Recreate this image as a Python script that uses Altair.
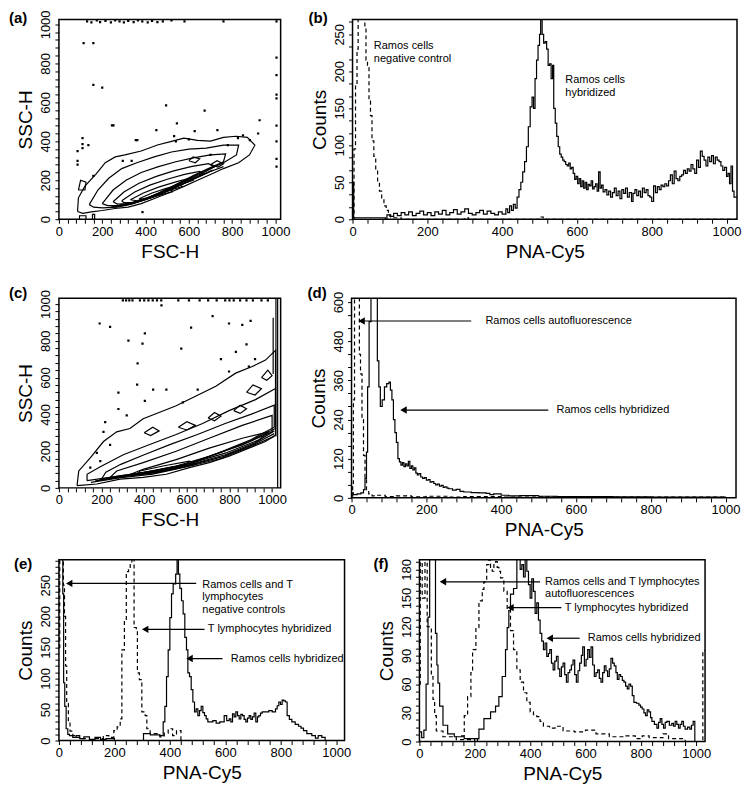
import altair as alt
import pandas as pd

FONT = "Liberation Sans"

# ---------------- (a) FSC/SSC contour, Ramos cells ----------------
A_CONTOURS = [
    [(86, 40), (90, 110), (120, 170), (170, 230), (214, 290), (260, 320), (305, 330), (380, 350), (455, 381),
     (520, 400), (577, 416), (640, 405), (700, 401), (760, 420), (818, 426), (870, 420), (905, 380), (880, 330),
     (830, 290), (760, 260), (700, 230), (640, 200), (580, 170), (518, 140), (450, 110), (380, 80), (320, 62),
     (259, 55), (200, 45), (150, 38), (110, 30), (86, 40)],
    [(140, 75), (180, 150), (230, 210), (290, 260), (360, 290), (440, 320), (520, 345), (600, 360), (680, 365),
     (760, 380), (830, 380), (820, 330), (760, 290), (690, 255), (620, 220), (550, 180), (480, 140), (410, 105),
     (340, 78), (270, 62), (200, 58), (160, 62), (140, 75)],
    [(200, 80), (250, 150), (310, 200), (380, 240), (460, 270), (540, 295), (620, 315), (700, 330), (770, 335),
     (760, 295), (700, 265), (630, 230), (560, 190), (490, 150), (420, 112), (350, 85), (280, 70), (225, 70),
     (200, 80)],
    [(250, 90), (300, 140), (370, 185), (450, 220), (530, 248), (610, 270), (690, 285), (720, 270), (670, 240),
     (600, 205), (530, 170), (460, 130), (390, 100), (320, 80), (270, 78), (250, 90)],
    [(290, 95), (350, 140), (420, 175), (500, 205), (580, 230), (650, 245), (670, 232), (610, 205), (540, 175),
     (470, 138), (400, 105), (335, 86), (300, 85), (290, 95)],
    [(330, 100), (390, 135), (460, 165), (540, 192), (610, 212), (620, 200), (560, 178), (490, 148), (420, 115),
     (360, 95), (330, 100)],
    [(370, 105), (430, 135), (500, 160), (560, 178), (570, 168), (510, 148), (450, 122), (395, 102), (370, 105)],
    [(410, 110), (470, 135), (520, 150), (525, 142), (470, 125), (420, 108), (410, 110)],
    [(240, 62), (320, 75), (400, 100), (480, 135), (560, 175), (640, 215), (700, 245), (760, 270)],
    [(260, 66), (340, 82), (420, 108), (500, 145), (580, 185), (650, 222), (710, 252)],
    [(280, 72), (360, 88), (440, 117), (520, 155), (600, 195), (660, 228)],
    [(600, 300), (620, 320), (650, 310), (630, 290), (600, 300)],
    [(700, 280), (730, 300), (760, 285), (735, 268), (700, 280)],
    [(90, 150), (100, 200), (125, 190), (120, 150), (90, 150)],
    [(95, 0), (95, 18), (125, 18), (125, 0)],
    [(155, 0), (155, 25), (165, 25), (165, 0)],
]
A_DOTS = [
    (130, 1015), (150, 1010), (175, 1020), (190, 1012), (215, 1018), (240, 1010), (260, 1020), (280, 1015),
    (300, 1010), (320, 1018), (345, 1012), (365, 1020), (385, 1015), (410, 1010), (430, 1018), (455, 1012),
    (480, 1015), (520, 1020), (580, 1015), (760, 1015), (1005, 1015),
    (1005, 830), (1005, 740), (1005, 640), (1005, 620), (1005, 480), (1005, 400), (1005, 310), (1005, 270),
    (114, 904), (159, 904), (159, 690), (200, 675), (495, 584), (673, 558), (545, 492), (450, 457), (245, 482),
    (252, 482), (355, 406), (362, 406), (532, 426), (627, 452), (732, 457), (827, 416), (927, 508), (882, 406),
    (109, 416), (109, 385), (109, 365), (86, 350), (86, 300), (86, 280), (136, 380), (159, 223), (295, 299),
    (336, 299), (386, 36), (655, 228), (540, 400), (600, 410), (700, 330), (780, 380), (850, 430), (920, 440),
]

# ---------------- (b) histogram ----------------
B_HYB = [(0, 50), (3, 2), (88, 0), (92, 6), (100, 4), (110, 8), (120, 5), (130, 9), (140, 6), (150, 10), (160, 5),
         (170, 8), (180, 11), (190, 6), (200, 9), (210, 5), (220, 10), (230, 7), (240, 12), (250, 6), (260, 9),
         (270, 13), (280, 7), (290, 10), (300, 14), (310, 8), (320, 6), (330, 9), (340, 12), (350, 7), (360, 11),
         (370, 8), (380, 6), (390, 10), (400, 7), (410, 14), (415, 9), (420, 18), (425, 12), (430, 20), (435, 15),
         (440, 30), (445, 40), (450, 50), (455, 64), (460, 78), (465, 98), (470, 125), (475, 152), (480, 165),
         (484, 150), (488, 190), (492, 215), (496, 235), (500, 250), (503, 275), (507, 250), (511, 238), (515, 240),
         (519, 230), (523, 208), (527, 210), (531, 190), (535, 208), (538, 150), (542, 130), (546, 112), (550, 98),
         (554, 88), (558, 84), (562, 80), (566, 78), (570, 74), (574, 72), (578, 76), (582, 68), (586, 70),
         (590, 62), (594, 54), (598, 58), (602, 48), (606, 55), (610, 44), (614, 52), (618, 42), (622, 50),
         (626, 40), (630, 47), (634, 45), (638, 52), (642, 41), (646, 44), (650, 48), (654, 38), (658, 64),
         (662, 42), (666, 46), (670, 37), (675, 40), (680, 33), (685, 38), (690, 30), (695, 36), (700, 42),
         (705, 32), (710, 38), (715, 28), (720, 40), (725, 35), (730, 42), (735, 30), (740, 36), (746, 24),
         (750, 35), (755, 40), (760, 32), (765, 38), (770, 30), (775, 42), (780, 36), (785, 40), (790, 32),
         (795, 30), (800, 24), (805, 45), (810, 36), (815, 44), (820, 40), (825, 46), (830, 44), (835, 48),
         (840, 45), (845, 52), (850, 60), (855, 48), (860, 65), (865, 55), (870, 52), (875, 58), (880, 60),
         (885, 66), (890, 62), (895, 68), (900, 65), (905, 74), (910, 68), (915, 62), (920, 80), (925, 70),
         (930, 92), (935, 85), (940, 80), (945, 72), (950, 84), (955, 78), (960, 86), (965, 75), (970, 84),
         (975, 80), (980, 78), (985, 72), (990, 66), (995, 70), (1000, 58), (1004, 62), (1008, 48), (1012, 72),
         (1016, 38), (1020, 30), (1028, 30)]
B_NEG = [(0, 0), (4, 95), (8, 180), (12, 230), (15, 290), (33, 260), (36, 215), (40, 205), (44, 160), (48, 140),
         (52, 106), (57, 85), (62, 66), (67, 50), (72, 38), (78, 28), (84, 18), (90, 12), (96, 6), (102, 3),
         (110, 2), (130, 0), (300, 2), (310, 0), (500, 3), (510, 0), (1028, 0)]

# ---------------- (c) FSC/SSC contour, mixed ----------------
C_CONTOURS = [
    [(85, 12), (178, 21), (287, 48), (395, 57), (504, 74), (612, 110), (705, 137), (798, 172), (891, 216),
     (969, 252), (1016, 287), (1016, 748), (969, 695), (907, 660), (829, 624), (736, 553), (643, 500),
     (550, 447), (473, 411), (395, 376), (333, 323), (271, 305), (209, 252), (147, 163), (93, 92), (85, 12)],
    [(132, 39), (287, 66), (442, 92), (597, 128), (752, 190), (891, 252), (1016, 323), (1016, 540), (922, 480),
     (798, 420), (674, 350), (550, 290), (426, 236), (302, 180), (194, 115), (132, 74), (132, 39)],
    [(200, 48), (330, 70), (470, 98), (620, 135), (770, 200), (900, 262), (1010, 330), (1010, 450), (900, 400),
     (780, 350), (650, 290), (520, 235), (400, 180), (290, 128), (220, 85), (200, 48)],
    [(240, 57), (395, 83), (550, 119), (705, 172), (860, 234), (1000, 305), (1000, 394), (860, 340), (705, 270),
     (550, 199), (395, 137), (271, 92), (240, 57)],
    [(318, 66), (473, 92), (628, 137), (783, 190), (938, 261), (984, 305), (860, 270), (705, 216), (550, 154),
     (395, 101), (318, 66)],
    [(364, 71), (519, 96), (643, 128), (612, 145), (488, 119), (380, 92), (364, 71)],
    [(150, 30), (290, 55), (440, 75), (600, 115), (760, 160), (900, 225), (1010, 280)],
    [(170, 38), (300, 60), (450, 82), (610, 122), (770, 170), (910, 235), (1010, 295)],
    [(190, 44), (310, 66), (460, 88), (620, 128), (780, 180), (920, 245), (1010, 310)],
    [(820, 420), (850, 450), (880, 430), (850, 405), (820, 420)],
    [(700, 380), (730, 410), (760, 390), (730, 365), (700, 380)],
    [(560, 330), (600, 360), (640, 340), (600, 315), (560, 330)],
    [(880, 520), (910, 560), (950, 540), (920, 505), (880, 520)],
    [(950, 600), (980, 640), (1000, 610), (975, 585), (950, 600)],
    [(400, 300), (440, 330), (470, 310), (430, 285), (400, 300)],
    [(1018, 280), (1018, 1030)],
    [(1026, 0), (1026, 1030)],
    [(1005, 620), (1005, 925)],
]
C_DOTS = [
    (191, 894), (240, 876), (326, 801), (392, 784), (403, 840), (481, 993), (574, 757), (620, 872), (721, 934),
    (798, 894), (860, 887), (899, 908), (369, 677), (279, 518), (367, 562), (403, 473), (442, 535), (504, 535),
    (581, 465), (651, 535), (798, 633), (891, 660), (217, 358), (209, 305), (240, 234), (178, 190), (194, 145),
    (279, 429), (318, 394), (147, 110), (880, 780), (830, 740), (760, 700), (920, 700),
    (300, 1020), (315, 1020), (330, 1020), (345, 1020), (380, 1020), (400, 1020), (420, 1020), (440, 1020),
    (460, 1020), (480, 1020), (560, 1020), (610, 1020), (660, 1020), (700, 1020), (740, 1020), (780, 1020),
    (800, 1020), (820, 1020), (850, 1020), (880, 1020), (910, 1020), (950, 1020), (980, 1020),
]

# ---------------- (d) histogram ----------------
D_HYB = [(0, 15), (5, 10), (15, 12), (25, 15), (32, 25), (36, 60), (40, 140), (43, 340), (47, 540), (52, 640),
         (66, 640), (69, 420), (73, 340), (77, 280), (82, 300), (88, 340), (94, 350), (100, 355), (104, 330),
         (108, 300), (112, 240), (116, 200), (120, 170), (124, 120), (128, 110), (132, 100), (136, 108), (140, 96),
         (144, 104), (148, 98), (152, 112), (156, 90), (160, 98), (164, 86), (168, 92), (172, 76), (176, 70),
         (180, 74), (185, 64), (190, 60), (195, 62), (200, 54), (205, 56), (210, 48), (215, 50), (220, 44),
         (225, 40), (230, 42), (235, 36), (240, 38), (245, 32), (250, 34), (255, 30), (260, 28), (270, 24),
         (280, 26), (290, 20), (300, 18), (320, 16), (340, 15), (360, 14), (370, 10), (380, 12), (400, 8),
         (420, 6), (450, 7), (500, 5), (550, 4), (600, 4), (700, 3), (800, 2), (900, 2), (1000, 1), (1028, 1)]
D_AUTO = [(0, 5), (3, 40), (5, 300), (8, 640), (21, 440), (24, 380), (28, 240), (32, 130), (36, 60), (40, 25),
          (46, 12), (55, 6), (70, 8), (90, 4), (120, 6), (160, 3), (200, 5), (260, 2), (300, 4), (400, 2),
          (500, 3), (700, 2), (1000, 1), (1028, 1)]

# ---------------- (e) histogram ----------------
E_NEG_SOLID = [(0, 300), (14, 236), (17, 93), (21, 55), (26, 19), (32, 10), (38, 8), (50, 5), (62, 8), (75, 3),
               (90, 6), (110, 2), (130, 5), (150, 2), (170, 3), (200, 0)]
E_NEG_DASH = [(0, 150), (3, 300), (16, 250), (20, 200), (24, 120), (28, 60), (34, 30), (40, 15), (50, 8), (60, 5),
              (80, 3), (100, 0), (130, 0)]
E_T_HYB = [(130, 3), (160, 8), (180, 5), (198, 16), (210, 22), (221, 35), (227, 146), (236, 193), (243, 272),
           (251, 277), (257, 285), (263, 300), (271, 182), (279, 177), (283, 109), (290, 98), (299, 46), (311, 40),
           (317, 19), (329, 11), (364, 6), (380, 12), (394, 19), (410, 8), (424, 16), (440, 0), (460, 0)]
E_R_HYB = [(300, 0), (305, 11), (330, 9), (364, 8), (376, 30), (382, 55), (388, 103), (394, 146), (400, 198),
           (406, 236), (412, 252), (421, 268), (426, 300), (431, 268), (436, 245), (442, 225), (448, 204),
           (454, 166), (460, 146), (465, 109), (471, 103), (477, 82), (483, 62), (489, 46), (495, 51), (501, 40),
           (507, 48), (513, 55), (519, 45), (525, 40), (531, 35), (537, 30), (543, 30), (555, 32), (567, 28),
           (580, 30), (596, 40), (605, 32), (614, 35), (620, 30), (626, 43), (632, 38), (638, 46), (644, 40),
           (650, 35), (656, 42), (662, 40), (668, 34), (674, 30), (680, 36), (686, 40), (692, 34), (698, 38),
           (704, 44), (710, 30), (716, 38), (721, 40), (727, 44), (733, 46), (745, 46), (757, 48), (769, 46),
           (781, 51), (787, 56), (793, 62), (799, 58), (805, 65), (811, 64), (817, 62), (823, 40), (831, 34),
           (840, 30), (852, 26), (864, 23), (873, 20), (882, 16), (894, 11), (912, 8), (925, 4), (935, 8),
           (948, 5), (960, 0)]

# ---------------- (f) histogram ----------------
F_AUTO_SOLID = [(0, 10), (8, 4), (16, 12), (24, 60), (31, 130), (37, 195), (58, 113), (63, 80), (67, 61), (73, 37),
                (85, 17), (102, 8), (126, 5), (162, 3), (210, 0)]
F_AUTO_DASH = [(0, 60), (3, 195), (10, 150), (20, 195), (28, 120), (43, 68), (49, 44), (55, 27), (61, 11), (85, 5),
               (133, 2), (200, 0)]
F_T_HYB = [(150, 6), (162, 27), (174, 47), (186, 72), (192, 96), (204, 119), (215, 147), (227, 159), (233, 167),
           (243, 185), (251, 190), (257, 182), (263, 178), (269, 185), (275, 188), (281, 182), (287, 178),
           (293, 171), (305, 157), (317, 137), (329, 116), (340, 96), (352, 75), (364, 62), (376, 51), (388, 41),
           (400, 31), (412, 28), (424, 26), (436, 21), (448, 16), (470, 14), (490, 16), (519, 11), (560, 10),
           (600, 12), (638, 8), (686, 5), (740, 6), (780, 3), (805, 6), (830, 4), (864, 4), (880, 8), (900, 3),
           (924, 3), (960, 0), (1024, 95), (1032, 95)]
F_R_HYB = [(204, 3), (215, 13), (233, 24), (257, 31), (275, 37), (287, 47), (299, 68), (311, 96), (317, 119),
           (323, 137), (329, 154), (340, 160), (352, 192), (364, 180), (370, 185), (376, 172), (382, 192),
           (388, 178), (394, 164), (400, 150), (406, 170), (412, 157), (418, 134), (424, 145), (430, 127),
           (436, 113), (442, 105), (448, 96), (454, 103), (460, 89), (466, 92), (471, 96), (477, 82), (483, 75),
           (489, 84), (495, 89), (501, 76), (507, 68), (513, 78), (519, 82), (525, 70), (531, 62), (537, 72),
           (543, 75), (549, 80), (555, 85), (561, 70), (567, 62), (573, 74), (579, 82), (585, 90), (590, 99),
           (596, 79), (602, 86), (608, 96), (614, 88), (620, 99), (626, 80), (632, 68), (638, 72), (644, 75),
           (650, 66), (656, 62), (662, 72), (668, 79), (674, 74), (680, 68), (686, 76), (692, 87), (698, 82),
           (704, 79), (710, 72), (715, 65), (721, 70), (727, 68), (733, 64), (739, 62), (745, 58), (751, 55),
           (757, 60), (763, 58), (769, 48), (775, 41), (784, 40), (793, 38), (799, 36), (805, 34), (811, 30),
           (817, 27), (823, 33), (829, 31), (835, 25), (840, 21), (849, 18), (858, 14), (864, 20), (870, 24),
           (876, 18), (882, 14), (888, 20), (894, 21), (903, 17), (912, 19), (918, 16), (924, 21), (930, 18),
           (936, 14), (942, 18), (948, 21), (954, 16), (960, 13), (969, 15), (977, 13), (983, 17), (989, 21),
           (995, 0)]

# ---------------- annotations (data coordinates) ----------------
B_TEXT = [(57, 234, "Ramos cells\nnegative control"), (569, 188, "Ramos cells\nhybridized")]
D_ARROWS = [(27, 320, 542), (139, 526, 269)]
D_TEXT = [(358, 542, "Ramos cells autofluorescence"), (548, 269, "Ramos cells hybridized")]
E_ARROWS = [(37, 495, 253), (311, 525, 179), (471, 590, 132)]
E_TEXT = [(517, 251, "Ramos cells and T\nlymphocytes\nnegative controls"), (537, 179, "T lymphocytes hybridized"),
          (620, 132, "Ramos cells hybridized")]
F_ARROWS = [(85, 436, 167), (329, 513, 140), (471, 579, 108)]
F_TEXT = [(454, 167, "Ramos cells and T lymphocytes\nautofluorescences"), (525, 140, "T lymphocytes hybridized"),
          (608, 108, "Ramos cells hybridized")]

DASH = [4, 3]


def tick_values(step, end):
    vals, k = [], 0
    while k * step <= end + 1e-9:
        vals.append(round(k * step, 3))
        k += 1
    return vals


def make_axis(title, step, major, end, vertical):
    kw = dict(title=title, values=tick_values(step, end), format="d",
              labelExpr=f"datum.value % {major} == 0 ? datum.label : ''")
    if vertical:
        kw["labelAngle"] = 270
    return alt.Axis(**kw)


def enc(xdom, ydom, xtitle, ytitle, ystep, ymajor):
    X = alt.X("x:Q", scale=alt.Scale(domain=xdom, nice=False, zero=False),
              axis=make_axis(xtitle, 40, 200, 1000, False))
    Y = alt.Y("y:Q", scale=alt.Scale(domain=ydom, nice=False, zero=False),
              axis=make_axis(ytitle, ystep, ymajor, ydom[1], True))
    return X, Y


def hist(data, X, Y, dash=None):
    kw = dict(interpolate="step-after", color="black", strokeWidth=1.2, clip=True)
    if dash:
        kw["strokeDash"] = dash
    return alt.Chart(pd.DataFrame(data, columns=["x", "y"])).mark_line(**kw).encode(x=X, y=Y)


def contours(cs, X, Y):
    rows = []
    for cid, pts in enumerate(cs):
        for i, (x, y) in enumerate(pts):
            rows.append({"x": x, "y": y, "id": cid, "i": i})
    return alt.Chart(pd.DataFrame(rows)).mark_line(color="black", strokeWidth=1.2, clip=True).encode(
        x=X, y=Y, detail="id:N", order="i:Q")


def dots(pts, X, Y):
    return alt.Chart(pd.DataFrame(pts, columns=["x", "y"])).mark_square(
        size=5, color="black", opacity=1, clip=True).encode(x=X, y=Y)


def texts(items, X, Y):
    return alt.Chart(pd.DataFrame(items, columns=["x", "y", "t"])).mark_text(
        align="left", baseline="middle", font=FONT, fontSize=11, lineHeight=12.5, lineBreak="\n",
        color="black").encode(x=X, y=Y, text="t:N")


def arrows(items, X, Y):
    df = pd.DataFrame(items, columns=["x", "x2", "y"])
    line = alt.Chart(df).mark_rule(color="black", strokeWidth=1.2).encode(x=X, x2=alt.X2("x2:Q"), y=Y)
    head = alt.Chart(df).mark_point(shape="triangle-left", filled=True, size=55, color="black",
                                    opacity=1).encode(x=X, y=Y)
    return [line, head]


def panel_label(t, dx, dy):
    return alt.Chart(pd.DataFrame({"t": [t]})).mark_text(
        align="left", baseline="top", font=FONT, fontSize=15, fontWeight="bold", color="black").encode(
        text="t:N", x=alt.value(dx), y=alt.value(dy))


# (a)
X, Y = enc([0, 1024], [0, 1025], "FSC-H", "SSC-H", 40, 200)
pa = alt.layer(contours(A_CONTOURS, X, Y), dots(A_DOTS, X, Y), panel_label("(a)", -50, -9)).properties(
    width=222, height=200)

# (b)
X, Y = enc([0, 1028], [0, 270], "PNA-Cy5", "Counts", 50 / 3, 50)
pb = alt.layer(hist(B_HYB, X, Y), hist(B_NEG, X, Y, DASH), texts(B_TEXT, X, Y),
               panel_label("(b)", -44, -9)).properties(width=385, height=200)

# (c)
X, Y = enc([0, 1040], [0, 1032], "FSC-H", "SSC-H", 40, 200)
pc = alt.layer(contours(C_CONTOURS, X, Y), dots(C_DOTS, X, Y), panel_label("(c)", -50, -12)).properties(
    width=222, height=190)

# (d)
X, Y = enc([0, 1028], [0, 612], "PNA-Cy5", "Counts", 40, 120)
pd_ = alt.layer(hist(D_HYB, X, Y), hist(D_AUTO, X, Y, DASH), *arrows(D_ARROWS, X, Y), texts(D_TEXT, X, Y),
                panel_label("(d)", -44, -12)).properties(width=385, height=200)

# (e)
X, Y = enc([0, 1030], [0, 291], "PNA-Cy5", "Counts", 10, 50)
pe = alt.layer(hist(E_NEG_SOLID, X, Y), hist(E_NEG_DASH, X, Y, DASH), hist(E_T_HYB, X, Y, DASH),
               hist(E_R_HYB, X, Y), *arrows(E_ARROWS, X, Y), texts(E_TEXT, X, Y),
               panel_label("(e)", -45, -3)).properties(width=286, height=181)

# (f)
X, Y = enc([0, 1032], [0, 190], "PNA-Cy5", "Counts", 7.5, 30)
pf = alt.layer(hist(F_AUTO_SOLID, X, Y), hist(F_AUTO_DASH, X, Y, DASH), hist(F_T_HYB, X, Y, DASH),
               hist(F_R_HYB, X, Y), *arrows(F_ARROWS, X, Y), texts(F_TEXT, X, Y),
               panel_label("(f)", -46, -3)).properties(width=286, height=182)

row1 = alt.hconcat(pa, pb, spacing=16)
row2 = alt.hconcat(pc, pd_, spacing=19)
row3 = alt.hconcat(pe, pf, spacing=21)
top = alt.vconcat(row1, row2, spacing=23)

chart = alt.concat(top, row3, columns=1, align="none", spacing=15).properties(padding=0).configure_view(
    stroke="black", strokeWidth=1.5
).configure_axis(
    labelFont=FONT, titleFont=FONT, labelFontSize=13, titleFontSize=19, titleFontWeight="normal",
    labelColor="black", titleColor="black", tickColor="black", tickSize=4, tickWidth=1,
    domain=False, grid=False, labelPadding=2, titlePadding=4, labelFlush=False, labelOverlap=False,
)

chart.save("out.html", embed_options={"renderer": "svg", "actions": False})
